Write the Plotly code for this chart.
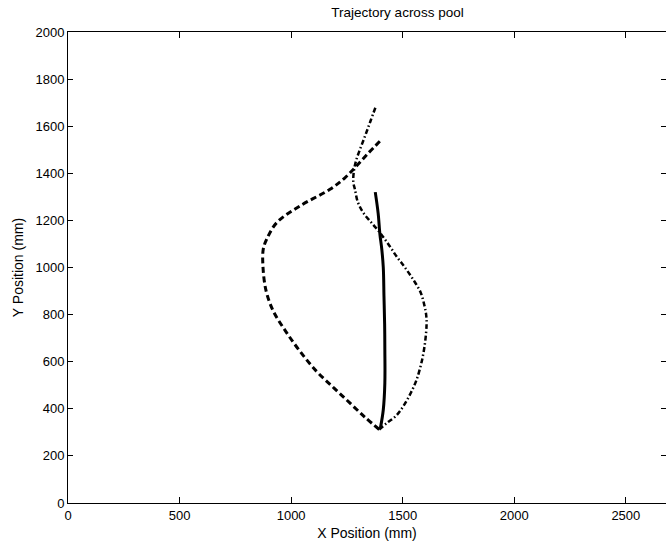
import plotly.graph_objects as go

# Solid trajectory
solid_x = [1400, 1413, 1420, 1420, 1419, 1416, 1413, 1406, 1398, 1390, 1377]
solid_y = [318, 396, 510, 650, 760, 880, 1000, 1080, 1140, 1230, 1320]

# Dashed trajectory
dash_x = [1395, 1330, 1263, 1190, 1114, 1039, 975, 920, 888, 874, 875, 890, 935,
          1039, 1174, 1240, 1293, 1345, 1407]
dash_y = [312, 365, 425, 490, 559, 645, 730, 815, 900, 1000, 1077, 1119, 1190,
          1261, 1332, 1380, 1431, 1485, 1545]

# Dash-dot trajectory
dd_x = [1395, 1428, 1470, 1502, 1535, 1562, 1585, 1600, 1607, 1605, 1597, 1580, 1547, 1510,
        1472, 1435, 1398, 1360, 1323, 1298, 1286, 1279, 1280, 1290, 1310, 1332, 1355, 1380]
dd_y = [312, 339, 370, 410, 465, 523, 600, 680, 760, 800, 840, 895, 949, 1000,
        1048, 1100, 1148, 1190, 1233, 1280, 1332, 1360, 1400, 1450, 1505, 1560, 1620, 1685]

x_ticks = [0, 500, 1000, 1500, 2000, 2500]
y_ticks = [0, 200, 400, 600, 800, 1000, 1200, 1400, 1600, 1800, 2000]

fig = go.Figure()
fig.add_trace(go.Scatter(x=dash_x, y=dash_y, mode="lines", line_shape="spline",
                         line=dict(color="black", width=3, dash="6px,3.5px")))
fig.add_trace(go.Scatter(x=dd_x, y=dd_y, mode="lines", line_shape="spline",
                         line=dict(color="black", width=2.5, dash="5px,2.5px,1.5px,2.5px")))
fig.add_trace(go.Scatter(x=solid_x, y=solid_y, mode="lines", line_shape="spline",
                         line=dict(color="black", width=3)))

font = dict(family="Liberation Sans, Arial, sans-serif", color="black")
fig.update_layout(
    width=666, height=550,
    margin=dict(l=68, r=0, t=32, b=47, autoexpand=False),
    paper_bgcolor="white", plot_bgcolor="white",
    showlegend=False,
    font=dict(size=13, **font),
    title=dict(text="Trajectory across pool", x=367 / 666, xanchor="center",
               xref="paper", y=1 - 12 / 550, yref="container", yanchor="middle",
               font=dict(size=13.5, **font)),
)
fig.update_xaxes(range=[0, 2680], tickvals=x_ticks, ticks="inside", ticklen=6,
                 tickcolor="black", showline=True, linecolor="black", linewidth=1,
                 mirror="ticks", showgrid=False, zeroline=False, automargin=False,
                 title=dict(text="X Position (mm)", standoff=6, font=dict(size=14, **font)),
                 tickfont=dict(size=13, **font))
fig.update_yaxes(range=[0, 2000], tickvals=y_ticks, ticks="inside", ticklen=5,
                 tickcolor="black", showline=True, linecolor="black", linewidth=1,
                 mirror="ticks", showgrid=False, zeroline=False, automargin=False,
                 title=dict(text="Y Position (mm)", standoff=8, font=dict(size=14, **font)),
                 tickfont=dict(size=13, **font))

fig.write_html("out.html", config={"displayModeBar": False},
               post_script="document.body.style.margin='0';document.body.style.overflow='hidden';")
